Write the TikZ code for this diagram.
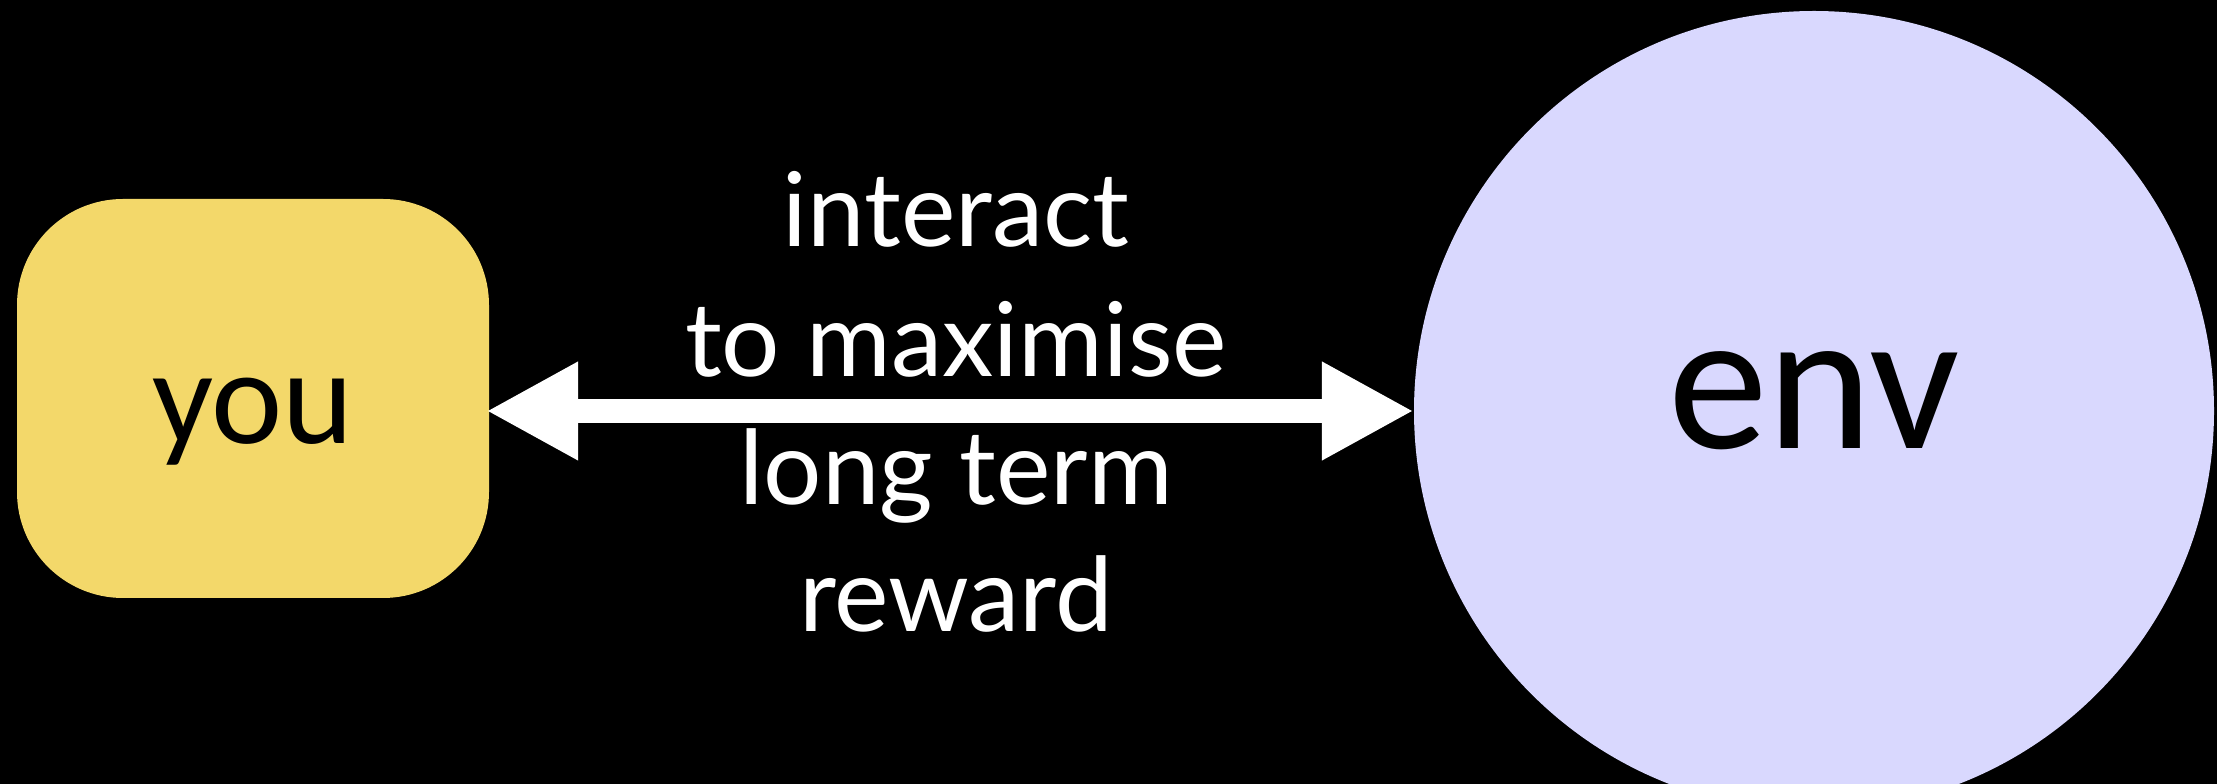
\documentclass[tikz,border=0pt]{standalone}
\usepackage{fontspec}
\newfontfamily\labelfont{Lato}
\newfontfamily\boxfont{Carlito}
\usetikzlibrary{arrows.meta}
\definecolor{agentyellow}{RGB}{243,216,106}
\definecolor{envlilac}{RGB}{217,216,254}
\tikzset{
  agentbox/.style={rectangle, rounded corners=106pt, fill=agentyellow,
    minimum width=472pt, minimum height=399pt, inner sep=0pt,
    font=\boxfont\fontsize{135}{135}\selectfont, text=black,
    text height=90pt, text depth=0pt},
  envdisc/.style={circle, fill=envlilac, minimum size=800pt, inner sep=0pt,
    font=\boxfont\fontsize{200}{200}\selectfont, text=black,
    text height=76pt, text depth=0pt},
  caption/.style={anchor=base, text=white, inner sep=0pt,
    font=\labelfont\fontsize{103}{129}\selectfont},
  bigarrow/.style={draw=white, line width=24pt,
    {Triangle[length=92pt,width=92pt]}-{Triangle[length=92pt,width=92pt]}}
}
\begin{document}
\begin{tikzpicture}[x=1pt,y=1pt]
  % canvas
  \fill[black] (0,0) rectangle (2217,784);
  \useasboundingbox (0,0) rectangle (2217,784);

  % agent and environment
  \node[agentbox] (you) at (253,385.5) {you};
  \node[envdisc] (env) at (1814,373) {env};

  % two-way interaction arrow
  \draw[bigarrow, shorten <=-3pt] (you.east |- env.west) -- (env.west);

  % caption around the arrow
  \node[caption] (l1) at (956,537) {interact};
  \node[caption] (l2) at (956,407) {to maximise};
  \node[caption] (l3) at (956,279) {long term};
  \node[caption] (l4) at (956,152) {reward};
\end{tikzpicture}
\end{document}
